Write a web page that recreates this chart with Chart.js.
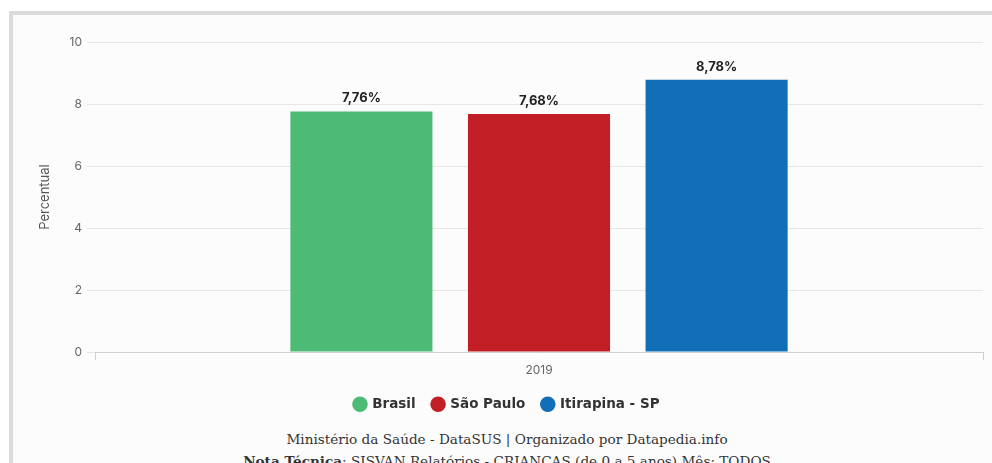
<!DOCTYPE html>
<html>
<head>
<meta charset="utf-8">
<script src="https://cdn.jsdelivr.net/npm/chart.js@4/dist/chart.umd.min.js"></script>
<style>
  html, body { margin:0; padding:0; background:#ffffff; width:992px; height:463px; overflow:hidden; }
  #frame { position:absolute; left:9px; top:11px; width:1010px; height:480px; background:#fcfcfc;
           border-top:4px solid #dadada; border-left:4px solid #dadada; box-sizing:border-box; }
  #wrap { position:absolute; left:14px; top:0px; width:986px; height:421px; }
  #footer { position:absolute; left:14px; top:428px; width:986px; text-align:center;
            font-family:"DejaVu Serif","Liberation Serif",serif; font-size:13.6px; line-height:22px; color:#333; }
</style>
</head>
<body>
<div id="frame"></div>
<div id="wrap"><canvas id="c" width="986" height="421"></canvas></div>
<div id="footer">
  <div>Ministério da Saúde - DataSUS | Organizado por Datapedia.info</div>
  <div><b>Nota Técnica</b>: SISVAN Relatórios - CRIANÇAS (de 0 a 5 anos) Mês: TODOS</div>
</div>
<script>
const categories = ['2019'];
const seriesNames = ['Brasil', 'São Paulo', 'Itirapina - SP'];
const brasilValues = [7.76];
const saoPauloValues = [7.68];
const itirapinaValues = [8.78];
const yTicks = [0, 2, 4, 6, 8, 10];

const colors = ['#4dbb76', '#c11e26', '#116fb8'];
const fmt = v => v.toFixed(2).replace('.', ',') + '%';

const valueLabels = {
  id: 'valueLabels',
  afterDatasetsDraw(chart) {
    const ctx = chart.ctx;
    chart.data.datasets.forEach((ds, i) => {
      const meta = chart.getDatasetMeta(i);
      meta.data.forEach((bar, j) => {
        ctx.save();
        ctx.font = 'bold 13px Inter';
        ctx.fillStyle = '#222';
        ctx.textAlign = 'center';
        ctx.textBaseline = 'middle';
        ctx.fillText(fmt(ds.data[j]), bar.x, bar.y - 13);
        ctx.restore();
      });
    });
  }
};

new Chart(document.getElementById('c'), {
  type: 'bar',
  data: {
    labels: categories,
    datasets: [
      { label: seriesNames[0], data: brasilValues, backgroundColor: colors[0] },
      { label: seriesNames[1], data: saoPauloValues, backgroundColor: colors[1] },
      { label: seriesNames[2], data: itirapinaValues, backgroundColor: colors[2] }
    ]
  },
  options: {
    responsive: false,
    animation: false,
    devicePixelRatio: 1,
    categoryPercentage: 0.6,
    barPercentage: 0.8,
    layout: { padding: { left: 17, right: 17, top: 42, bottom: 0 } },
    plugins: {
      tooltip: { enabled: false },
      legend: {
        position: 'bottom',
        labels: {
          usePointStyle: true,
          pointStyle: 'circle',
          boxWidth: 11,
          boxHeight: 11,
          padding: 17,
          color: '#333',
          font: { family: 'DejaVu Sans', size: 13.5, weight: 'bold' }
        }
      }
    },
    scales: {
      x: {
        grid: { drawOnChartArea: false, drawTicks: true, tickLength: 8, color: '#cfcfcf' },
        border: { display: true, color: '#cfcfcf' },
        ticks: { color: '#666', font: { family: 'Inter', size: 12 }, padding: 3 }
      },
      y: {
        min: 0, max: 10,
        afterBuildTicks(s) { s.ticks = yTicks.map(v => ({ value: v })); },
        afterFit(s) { s.width = 64; },
        grid: { color: '#e6e6e6', tickLength: 8 },
        border: { display: false },
        ticks: { color: '#666', font: { family: 'Inter', size: 12 }, padding: 5 },
        title: { display: true, text: 'Percentual', color: '#555', font: { family: 'Inter', size: 13 }, padding: { top: 6, bottom: 0 } }
      }
    }
  },
  plugins: [valueLabels]
});
</script>
</body>
</html>
